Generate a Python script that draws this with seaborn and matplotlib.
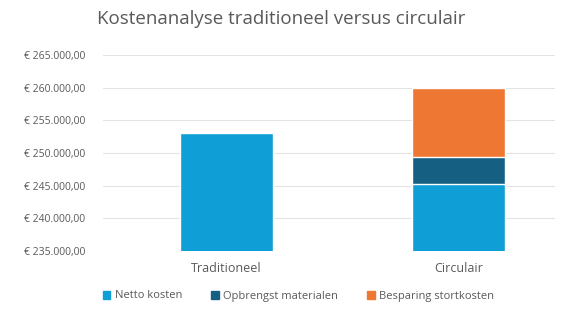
import numpy as np
import pandas as pd
import matplotlib.pyplot as plt
import matplotlib.ticker as mticker
from matplotlib.patches import Patch
import seaborn as sns

categories = ["Traditioneel", "Circulair"]
netto_kosten = [253000, 245250]
opbrengst_materialen = [0, 4150]
besparing_stortkosten = [0, 10600]
series_names = ["Netto kosten", "Opbrengst materialen", "Besparing stortkosten"]
colors = ["#0F9ED5", "#156082", "#EE7733"]

sns.set_style("white")
plt.rcParams['font.family'] = ['Open Sans', 'DejaVu Sans']

# cumulative heights so the layers can be drawn on top of each other
df = pd.DataFrame({
    "categorie": categories,
    "netto": netto_kosten,
    "opbrengst": np.array(netto_kosten) + np.array(opbrengst_materialen),
    "besparing": np.array(netto_kosten) + np.array(opbrengst_materialen) + np.array(besparing_stortkosten),
})

fig = plt.figure(figsize=(5.63, 3.11), dpi=100)
ax = fig.add_axes([103 / 563, 1 - 251 / 311, (555 - 103) / 563, (251 - 55) / 311])

for col, c in zip(["besparing", "opbrengst", "netto"], colors[::-1]):
    sns.barplot(data=df, x="categorie", y=col, color=c, width=0.40,
                saturation=1, ax=ax, zorder=3)

ax.set_ylim(235000, 265000)
ax.set_xlim(-0.532, 1.416)
ax.yaxis.set_major_locator(mticker.MultipleLocator(5000))


def euro(v, pos):
    s = f"{v:,.2f}".replace(",", "X").replace(".", ",").replace("X", ".")
    return "€ " + s


ax.yaxis.set_major_formatter(mticker.FuncFormatter(euro))
ax.grid(axis="y", color="#E3E3E3", linewidth=0.8, zorder=0)
for s in ax.spines.values():
    s.set_visible(False)
ax.set_xlabel("")
ax.set_ylabel("")
ax.tick_params(axis="y", labelsize=7.5, colors="#595959", length=0, pad=13)
ax.tick_params(axis="x", labelsize=9, colors="#595959", length=0, pad=8)

fig.text(0.5, 0.94, "Kostenanalyse traditioneel versus circulair", ha="center",
         va="center", fontsize=13.5, color="#595959")

handles = [Patch(color=c, label=n) for c, n in zip(colors, series_names)]
fig.legend(handles=handles, loc="center", bbox_to_anchor=(0.53, 1 - 296 / 311),
           ncol=3, frameon=False, fontsize=8, labelcolor="#595959",
           handlelength=0.7, handleheight=0.7, handletextpad=0.4, columnspacing=2.6)

fig.savefig("out.png", dpi=100)
